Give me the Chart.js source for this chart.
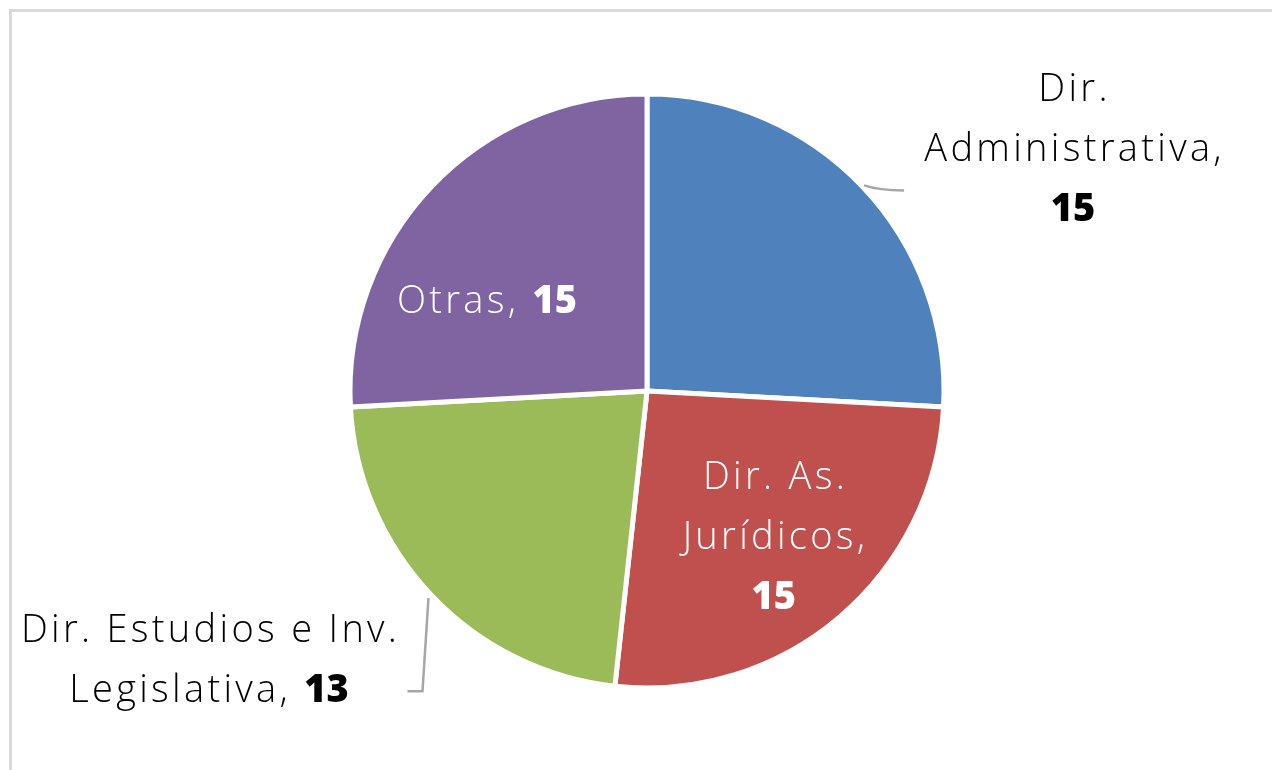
<!DOCTYPE html>
<html>
<head>
<meta charset="utf-8">
<script src="https://cdn.jsdelivr.net/npm/chart.js@4.4.1/dist/chart.umd.min.js"></script>
<style>
  html, body { margin: 0; padding: 0; width: 1272px; height: 770px; overflow: hidden; background: #fff; }
  #frame { position: absolute; left: 9px; top: 9px; width: 1300px; height: 800px; border: 3px solid #d9d9d9; box-sizing: border-box; }
  #wrap { position: absolute; left: 0; top: 0; width: 1272px; height: 770px; }
</style>
</head>
<body>
<div id="frame"></div>
<div id="wrap"><canvas id="c" width="1272" height="770"></canvas></div>
<script>
// ---- data ----
const categories = ['Dir. Administrativa', 'Dir. As. Jurídicos', 'Dir. Estudios e Inv. Legislativa', 'Otras'];
const values = [15, 15, 13, 15];
const colors = ['#4F81BD', '#C0504D', '#9BBB59', '#8064A2'];
// label lines: name parts per line; value appended in bold on last line
const labelLines = [
  ['Dir.', 'Administrativa,', ''],
  ['Dir. As.', 'Jurídicos,', ''],
  ['Dir. Estudios e Inv.', 'Legislativa, '],
  ['Otras, ']
];
const labelColors = ['#000000', '#ffffff', '#000000', '#ffffff'];

// label anchor offsets (fraction of radius, relative to pie center)
const labelAnchors = [
  { dx: 1.434, dy: -0.81 },
  { dx: 0.427, dy: 0.495 },
  { dx: -1.475, dy: 0.91 },
  { dx: -0.539, dy: -0.30 }
];

const FONT = '"Open Sans", "Lato", sans-serif';
const FS = 38;
const LH = 60;
const LS = 3.3;
const LSB = 0;

const labelPlugin = {
  id: 'labels',
  afterDatasetsDraw(chart) {
    const ctx = chart.ctx;
    const meta = chart.getDatasetMeta(0);
    const arc0 = meta.data[0];
    const cx = arc0.x, cy = arc0.y, R = arc0.outerRadius;
    ctx.save();
    // leader lines
    ctx.strokeStyle = '#a6a6a6';
    ctx.lineWidth = 2.5;
    // Administrativa leader
    const a0 = (meta.data[0].startAngle + meta.data[0].endAngle) / 2;
    let px = cx + Math.cos(a0) * (R + 2), py = cy + Math.sin(a0) * (R + 2);
    ctx.beginPath();
    ctx.moveTo(px, py);
    ctx.quadraticCurveTo(px + 15, py + 5, px + 40, py + 5);
    ctx.stroke();
    // Estudios leader
    const a2 = (meta.data[2].startAngle + meta.data[2].endAngle) / 2;
    px = cx + Math.cos(a2) * (R + 4); py = cy + Math.sin(a2) * (R + 4);
    ctx.beginPath();
    ctx.moveTo(px, py);
    ctx.lineTo(px - 6, cy + 0.91 * R + 30);
    ctx.lineTo(px - 21, cy + 0.91 * R + 30);
    ctx.stroke();

    ctx.textBaseline = 'middle';
    labelLines.forEach((lines, i) => {
      const ax = cx + labelAnchors[i].dx * R;
      const ay = cy + labelAnchors[i].dy * R;
      const n = lines.length;
      lines.forEach((line, j) => {
        const y = ay + (j - (n - 1) / 2) * LH;
        const isLast = j === n - 1;
        const segs = [{ t: line, b: false }];
        if (isLast) segs.push({ t: String(values[i]), b: true });
        const parts = segs.filter(s => s.t.length);
        let total = 0;
        parts.forEach((s, k) => {
          ctx.font = (s.b ? '800 ' : '300 ') + FS + 'px ' + FONT;
          ctx.letterSpacing = (s.b ? LSB : LS) + 'px';
          s.w = ctx.measureText(s.t).width;
          if (k === parts.length - 1) s.w -= (s.b ? LSB : LS);
          total += s.w;
        });
        let x = ax - total / 2;
        ctx.fillStyle = labelColors[i];
        ctx.textAlign = 'left';
        parts.forEach(s => {
          ctx.font = (s.b ? '800 ' : '300 ') + FS + 'px ' + FONT;
          ctx.letterSpacing = (s.b ? LSB : LS) + 'px';
          ctx.fillText(s.t, x, y);
          x += s.w;
        });
      });
    });
    ctx.restore();
  }
};

new Chart(document.getElementById('c'), {
  type: 'pie',
  data: {
    labels: categories,
    datasets: [{
      data: values,
      backgroundColor: colors,
      borderColor: '#ffffff',
      borderWidth: 5
    }]
  },
  options: {
    responsive: false,
    animation: false,
    radius: 297,
    layout: { padding: { left: 22, right: 0, top: 12, bottom: 0 } },
    plugins: {
      legend: { display: false },
      tooltip: { enabled: false }
    }
  },
  plugins: [labelPlugin]
});
</script>
</body>
</html>
